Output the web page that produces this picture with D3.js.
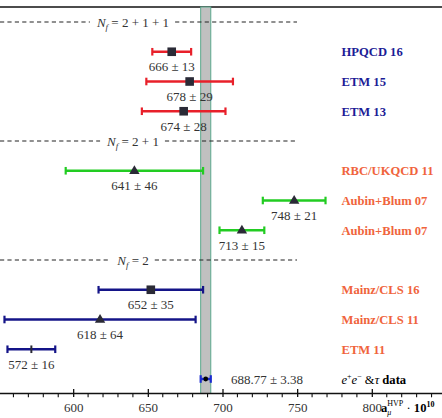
<!DOCTYPE html>
<html><head><meta charset="utf-8">
<script src="https://cdn.jsdelivr.net/npm/d3@7/dist/d3.min.js"></script>
<style>body{margin:0;background:#fff}svg{display:block}</style>
</head><body>
<script>
const rowNames = ["HPQCD 16","ETM 15","ETM 13","RBC/UKQCD 11","Aubin+Blum 07","Aubin+Blum 07","Mainz/CLS 16","Mainz/CLS 11","ETM 11"];
const rowValues = [666,678,674,641,748,713,652,618,572];
const rowErrors = [13,29,28,46,21,15,35,64,16];
const rowGroup = [0,0,0,1,1,1,2,2,2];
const rowMarker = ["square","square","square","triangle","triangle","triangle","square","triangle","tick"];
const groupLabels = ["2 + 1 + 1","2 + 1","2"];
const dataValue = 688.77, dataError = 3.38;
const majorTicks = [600,650,700,750,800];
const minorTicks = [560,570,580,590,610,620,630,640,660,670,680,690,710,720,730,740,760,770,780,790,810,820,830,840];

const W = 442, H = 418;
const serif = "'Liberation Serif','DejaVu Serif',serif";
const svg = d3.select("body").append("svg").attr("width", W).attr("height", H);
const x = d3.scaleLinear().domain([551, 847]).range([0, W]);
const y = d3.scaleLinear().domain([0, 12]).range([22, 379]);
const axisY = 393.5, topY = 7;

const barColors = ["#e8202a", "#22cc22", "#141488"];
const labelColors = ["#1c1c96", "#f0643c", "#f0643c"];

// top line
svg.append("line").attr("x1", 0).attr("x2", W).attr("y1", topY).attr("y2", topY).attr("stroke", "#111").attr("stroke-width", 1.6);

// band
svg.append("rect").attr("x", x(dataValue - dataError)).attr("y", topY)
  .attr("width", x(dataValue + dataError) - x(dataValue - dataError)).attr("height", axisY - topY)
  .attr("fill", "#c0c0c0").attr("stroke", "#5aa88c").attr("stroke-width", 1);

// group headers
groupLabels.forEach((g, i) => {
  const yy = y(i * 4);
  const cx = 133;
  const t = svg.append("text").attr("x", cx).attr("y", yy + 4.5).attr("text-anchor", "middle")
    .attr("font-family", serif).attr("font-size", 13).attr("fill", "#333");
  t.append("tspan").attr("font-style", "italic").text("N");
  t.append("tspan").attr("font-style", "italic").attr("font-size", 9).attr("dy", 3).text("f");
  t.append("tspan").attr("dy", -3).text(" = " + g);
  const bb = t.node().getBBox();
  const gap = 6;
  svg.append("line").attr("x1", 0).attr("x2", bb.x - gap).attr("y1", yy).attr("y2", yy)
    .attr("stroke", "#222").attr("stroke-width", 1.2).attr("stroke-dasharray", "4.2,3.2");
  svg.append("line").attr("x1", bb.x + bb.width + gap).attr("x2", 297).attr("y1", yy).attr("y2", yy)
    .attr("stroke", "#222").attr("stroke-width", 1.2).attr("stroke-dasharray", "4.2,3.2");
});

function errorBar(v, e, yy, color) {
  const g = svg.append("g");
  g.append("line").attr("x1", x(v - e)).attr("x2", x(v + e)).attr("y1", yy).attr("y2", yy)
    .attr("stroke", color).attr("stroke-width", 2.4);
  [v - e, v + e].forEach(c => g.append("line").attr("x1", x(c)).attr("x2", x(c))
    .attr("y1", yy - 3.8).attr("y2", yy + 3.8).attr("stroke", color).attr("stroke-width", 2.2));
}

rowNames.forEach((name, i) => {
  const grp = rowGroup[i];
  const idx = grp * 4 + 1 + (i - grp * 3);
  const yy = y(idx);
  const v = rowValues[i], e = rowErrors[i];
  errorBar(v, e, yy, barColors[grp]);
  const cx = x(v);
  const m = rowMarker[i];
  if (m === "square") {
    svg.append("rect").attr("x", cx - 4.3).attr("y", yy - 4.3).attr("width", 8.6).attr("height", 8.6).attr("fill", "#2a2a36");
  } else if (m === "triangle") {
    svg.append("path").attr("d", `M${cx},${yy - 5.5} L${cx + 5.2},${yy + 3.3} L${cx - 5.2},${yy + 3.3} Z`).attr("fill", "#2a2a36");
  } else {
    svg.append("line").attr("x1", cx).attr("x2", cx).attr("y1", yy - 3.8).attr("y2", yy + 3.8).attr("stroke", "#2a2a36").attr("stroke-width", 2);
  }
  svg.append("text").attr("x", cx).attr("y", yy + 19.5).attr("text-anchor", "middle")
    .attr("font-family", serif).attr("font-size", 13).attr("fill", "#333").text(v + " ± " + e);
  svg.append("text").attr("x", 341.5).attr("y", yy + 4.5).attr("font-family", serif)
    .attr("font-size", 12.6).attr("font-weight", "bold").attr("fill", labelColors[grp]).text(name);
});

// data row
{
  const yy = y(12);
  errorBar(dataValue, dataError, yy, "#1a2ad0");
  svg.append("circle").attr("cx", x(dataValue)).attr("cy", yy).attr("r", 2.4).attr("fill", "#000");
  svg.append("text").attr("x", 267).attr("y", yy + 4.5).attr("text-anchor", "middle")
    .attr("font-family", serif).attr("font-size", 13).attr("fill", "#333").text(dataValue + " ± " + dataError);
  const t = svg.append("text").attr("x", 341.5).attr("y", yy + 4.5).attr("font-family", serif)
    .attr("font-size", 12.6).attr("fill", "#000");
  t.append("tspan").attr("font-style", "italic").text("e");
  t.append("tspan").attr("font-size", 8).attr("dy", -5).text("+");
  t.append("tspan").attr("font-style", "italic").attr("dy", 5).text("e");
  t.append("tspan").attr("font-size", 8).attr("dy", -5).text("−");
  t.append("tspan").attr("dy", 5).text(" &");
  t.append("tspan").attr("font-style", "italic").text("τ ");
  t.append("tspan").attr("font-weight", "bold").text("data");
}

// axis
const axis = d3.axisBottom(x).tickValues(majorTicks).tickSize(0).tickPadding(0).tickFormat(d3.format("d"));
const ag = svg.append("g").attr("transform", `translate(0,${axisY})`).call(axis);
ag.select(".domain").remove();
ag.append("line").attr("x1", 0).attr("x2", W).attr("y1", 0).attr("y2", 0).attr("stroke", "#111").attr("stroke-width", 1.5);
ag.selectAll(".tick line").attr("y1", -4.5).attr("y2", 3.5).attr("stroke", "#111").attr("stroke-width", 1.3);
ag.selectAll(".tick text").attr("y", 18.5).attr("dy", null).attr("font-family", serif).attr("font-size", 13).attr("fill", "#333");
ag.selectAll(".minor").data(minorTicks).enter().append("line").attr("class", "minor")
  .attr("x1", d => x(d)).attr("x2", d => x(d)).attr("y1", 0).attr("y2", 3.8).attr("stroke", "#111").attr("stroke-width", 1.1);

// axis title
{
  const t = svg.append("text").attr("x", 381).attr("y", 412).attr("font-family", serif).attr("font-size", 12.6).attr("fill", "#000");
  t.append("tspan").attr("font-weight", "bold").text("a");
  t.append("tspan").attr("font-style", "italic").attr("font-size", 8).attr("dy", 3).text("μ");
  t.append("tspan").attr("font-size", 8).attr("dy", -9).attr("dx", -4).text("HVP");
  t.append("tspan").attr("dy", 6).text(" · ");
  t.append("tspan").attr("font-weight", "bold").text("10");
  t.append("tspan").attr("font-weight", "bold").attr("font-size", 8).attr("dy", -5).text("10");
}
</script>
</body></html>
